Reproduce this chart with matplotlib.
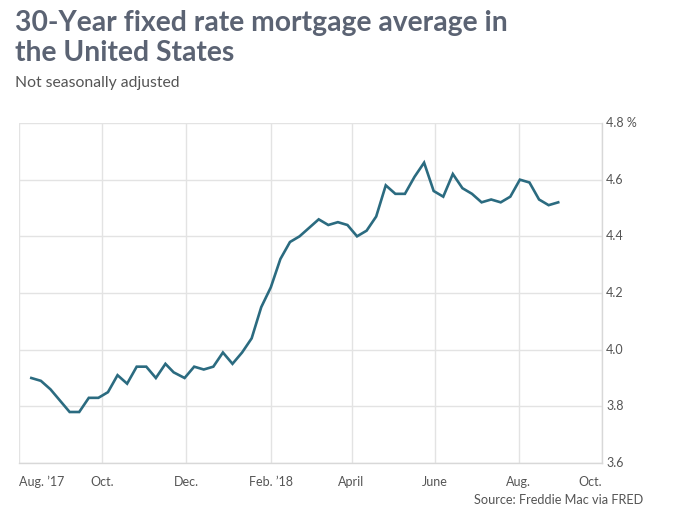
import numpy as np
import pandas as pd
import matplotlib
matplotlib.use('agg')
import matplotlib.pyplot as plt
import matplotlib.dates as mdates

plt.rcParams['font.family'] = ['Lato', 'DejaVu Sans']

# weekly 30-year fixed rate, Freddie Mac PMMS
dates = pd.to_datetime([
    '2017-08-10', '2017-08-17', '2017-08-24', '2017-08-31', '2017-09-07',
    '2017-09-14', '2017-09-21', '2017-09-28', '2017-10-05', '2017-10-12',
    '2017-10-19', '2017-10-26', '2017-11-02', '2017-11-09', '2017-11-16',
    '2017-11-22', '2017-11-30', '2017-12-07', '2017-12-14', '2017-12-21',
    '2017-12-28', '2018-01-04', '2018-01-11', '2018-01-18', '2018-01-25',
    '2018-02-01', '2018-02-08', '2018-02-15', '2018-02-22', '2018-03-01',
    '2018-03-08', '2018-03-15', '2018-03-22', '2018-03-29', '2018-04-05',
    '2018-04-12', '2018-04-19', '2018-04-26', '2018-05-03', '2018-05-10',
    '2018-05-17', '2018-05-24', '2018-05-31', '2018-06-07', '2018-06-14',
    '2018-06-21', '2018-06-28', '2018-07-05', '2018-07-12', '2018-07-19',
    '2018-07-26', '2018-08-02', '2018-08-09', '2018-08-16', '2018-08-23',
    '2018-08-30'])
rates = [3.90, 3.89, 3.86, 3.82, 3.78, 3.78, 3.83, 3.83, 3.85, 3.91,
         3.88, 3.94, 3.94, 3.90, 3.95, 3.92, 3.90, 3.94, 3.93, 3.94,
         3.99, 3.95, 3.99, 4.04, 4.15, 4.22, 4.32, 4.38, 4.40, 4.43,
         4.46, 4.44, 4.45, 4.44, 4.40, 4.42, 4.47, 4.58, 4.55, 4.55,
         4.61, 4.66, 4.56, 4.54, 4.62, 4.57, 4.55, 4.52, 4.53, 4.52,
         4.54, 4.60, 4.59, 4.53, 4.51, 4.52]

xtick_dates = pd.to_datetime(['2017-08-01', '2017-10-01', '2017-12-01', '2018-02-01',
                              '2018-04-01', '2018-06-01', '2018-08-01', '2018-10-01'])
xtick_labels = ["Aug. \u201917", "Oct.", "Dec.", "Feb. \u201918", "April", "June", "Aug.", "Oct."]
yticks = [3.6, 3.8, 4.0, 4.2, 4.4, 4.6, 4.8]
ytick_labels = ['3.6', '3.8', '4.0', '4.2', '4.4', '4.6', '4.8 %']

title_col = '#5b6373'
text_col = '#555555'
grid_col = '#e3e3e3'

fig = plt.figure(figsize=(6.74, 5.18), dpi=100)
ax = fig.add_axes([19/674, 55/518, 583/674, 340/518])

ax.plot(dates, rates, color='#2b6b80', lw=1.9, solid_joinstyle='miter')

ax.set_xlim(xtick_dates[0], xtick_dates[-1])
ax.set_ylim(3.6, 4.8)
ax.set_xticks(xtick_dates)
ax.set_xticklabels(xtick_labels)
ax.set_yticks(yticks)
ax.set_yticklabels(ytick_labels)
ax.yaxis.tick_right()
ax.grid(True, color=grid_col, lw=1)
ax.set_axisbelow(True)
for s in ['top', 'left']:
    ax.spines[s].set_visible(False)
for s in ['bottom', 'right']:
    ax.spines[s].set_color('#d8d8d8')
    ax.spines[s].set_linewidth(1)
ax.tick_params(length=0, labelsize=9, colors=text_col)
ax.tick_params(axis='x', pad=9)
ax.tick_params(axis='y', pad=3)
labs = ax.get_xticklabels()
labs[0].set_ha('left')
labs[-1].set_ha('right')
for l in ax.get_yticklabels():
    l.set_va('center')

fig.text(15/674, 1 - 38/518, "30-Year fixed rate mortgage average in\nthe United States",
         ha='left', va='center', fontsize=20.3, fontweight='bold', color=title_col,
         linespacing=1.2)
fig.text(15/674, 1 - 83/518, "Not seasonally adjusted", ha='left', va='center',
         fontsize=11.3, color=text_col)
fig.text(643/674, 1 - 500/518, "Source: Freddie Mac via FRED", ha='right', va='center',
         fontsize=9.2, color=text_col)

fig.savefig('out.png', dpi=100)
